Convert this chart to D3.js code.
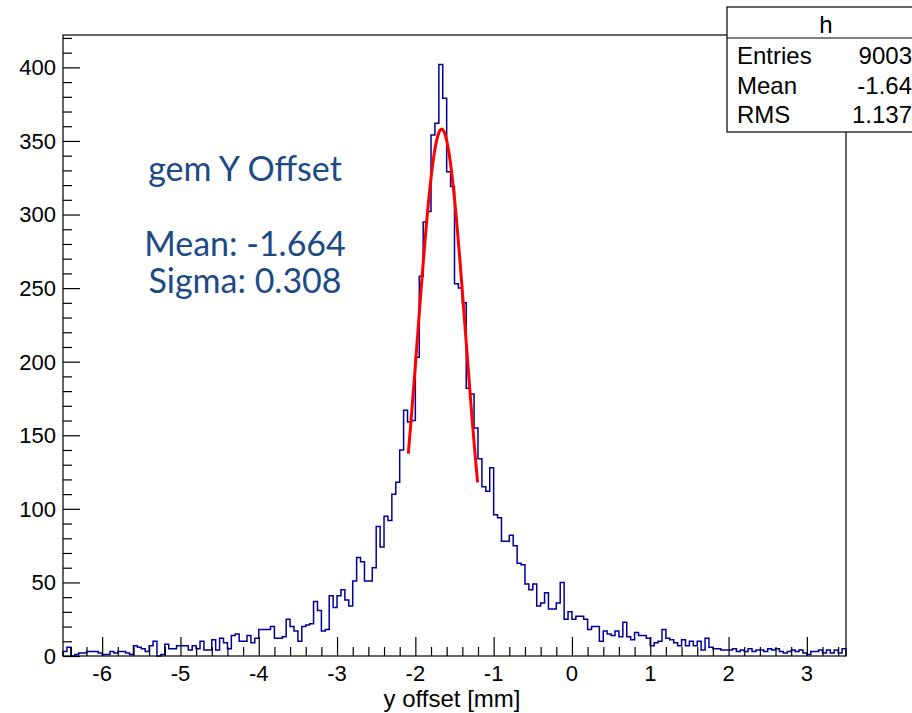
<!DOCTYPE html>
<html><head><meta charset="utf-8">
<script src="https://cdn.jsdelivr.net/npm/d3@7"></script>
<style>body{margin:0;background:#fff;}svg{display:block;}</style>
</head><body>
<script>
// Histogram: 200 bins of width 0.05 from -6.5 to 3.5
const binLow = -6.5, binWidth = 0.05;
const counts = [
 3,6,0,1,2,2,3,3,3,2, 1,1,3,2,3,3,2,1,7,6,
 5,3,7,10,0,1,8,5,5,7, 7,7,4,7,5,10,4,4,11,4,
 12,9,5,14,15,10,10,14,9,12, 18,18,18,20,12,12,13,25,20,17,
 10,20,21,22,37,31,17,18,41,33, 41,45,38,34,51,67,64,51,51,60,
 88,74,95,92,110,118,140,167,159,160, 203,258,295,302,354,362,402,379,329,319,
 253,250,240,182,178,155,134,115,112,128, 96,94,78,78,82,75,63,62,49,45,
 49,34,36,43,32,32,36,50,25,30, 25,27,27,25,18,20,20,10,17,15,
 14,17,13,23,13,11,16,14,14,12, 7,9,10,18,12,11,9,7,11,7,
 10,7,10,4,12,6,5,5,4,4, 4,5,3,4,3,5,3,4,4,3,
 5,4,5,3,2,3,4,3,4,2, 1,3,3,4,2,4,2,4,2,5
];
const xTicks = [-6,-5,-4,-3,-2,-1,0,1,2,3];
const yTicks = [0,50,100,150,200,250,300,350,400];
const fitMean = -1.664, fitSigma = 0.308, fitAmp = 358, fitRange = [-2.09, -1.205];
const statsLabels = ["Entries","Mean","RMS"];
const statsValues = ["9003","-1.64","1.137"];
const noteLines = ["gem Y Offset","","Mean: -1.664","Sigma: 0.308"];

const W = 912, H = 713;
const svg = d3.select("body").append("svg").attr("width",W).attr("height",H);
const x = d3.scaleLinear().domain([-6.5,3.5]).range([63,846]);
const y = d3.scaleLinear().domain([0,422]).range([656,35]);

// histogram outline
const pts = [[x(binLow), y(0)]];
counts.forEach((c,i)=>{
  const x0 = binLow + i*binWidth, x1 = x0 + binWidth;
  pts.push([x(x0), y(c)], [x(x1), y(c)]);
});
pts.push([x(binLow + counts.length*binWidth), y(0)]);
svg.append("path").attr("d", d3.line()(pts))
  .attr("fill","none").attr("stroke","#000099").attr("stroke-width",1.5);

// fit curve
const fx = d3.range(0,101).map(k=>fitRange[0] + (fitRange[1]-fitRange[0])*k/100);
svg.append("path").attr("d", d3.line().x(d=>x(d)).y(d=>y(fitAmp*Math.exp(-0.5*Math.pow((d-fitMean)/fitSigma,2))))(fx))
  .attr("fill","none").attr("stroke","#ff0000").attr("stroke-width",3);

// frame
svg.append("rect").attr("x",63).attr("y",35).attr("width",783).attr("height",621)
  .attr("fill","none").attr("stroke","#000").attr("stroke-width",1.2);

// x axis ticks (inward)
const xAxis = d3.axisTop(x).tickValues(xTicks).tickSize(19).tickFormat("");
const xMinor = d3.axisTop(x).tickValues(d3.range(-6.4,3.5,0.2).filter(v=>Math.abs(v-Math.round(v))>0.01)).tickSize(9).tickFormat("");
[xAxis,xMinor].forEach(a=>{
  const g = svg.append("g").attr("transform","translate(0,656)").call(a);
  g.select(".domain").remove();
  g.selectAll("line").attr("stroke","#000").attr("stroke-width",1.2);
});
svg.append("g").selectAll("text").data(xTicks).join("text")
  .attr("x",d=>x(d)).attr("y",681).attr("text-anchor","middle")
  .attr("font-family","Liberation Sans, Arial, sans-serif").attr("font-size",22)
  .text(d=>d);

// y axis ticks (inward)
const yAxis = d3.axisRight(y).tickValues(yTicks).tickSize(17).tickFormat("");
const yMinor = d3.axisRight(y).tickValues(d3.range(10,421,10).filter(v=>v%50!==0)).tickSize(9).tickFormat("");
[yAxis,yMinor].forEach(a=>{
  const g = svg.append("g").attr("transform","translate(63,0)").call(a);
  g.select(".domain").remove();
  g.selectAll("line").attr("stroke","#000").attr("stroke-width",1.2);
});
svg.append("g").selectAll("text").data(yTicks).join("text")
  .attr("x",56).attr("y",d=>y(d)).attr("dy","0.36em").attr("text-anchor","end")
  .attr("font-family","Liberation Sans, Arial, sans-serif").attr("font-size",22)
  .text(d=>d);

// axis title
svg.append("text").attr("x",452).attr("y",707).attr("text-anchor","middle")
  .attr("font-family","Liberation Sans, Arial, sans-serif").attr("font-size",24)
  .text("y offset [mm]");

// annotation
const noteY = [181, 218, 256, 293];
noteLines.forEach((t,i)=>{
  if(!t) return;
  svg.append("text").attr("x",245).attr("y",noteY[i]).attr("text-anchor","middle")
    .attr("font-family","Lato, 'Open Sans', sans-serif").attr("font-size",34)
    .attr("fill","#1c4a87").text(t);
});

// stats box
svg.append("rect").attr("x",727).attr("y",7).attr("width",200).attr("height",125)
  .attr("fill","#fff").attr("stroke","#000").attr("stroke-width",1.2);
svg.append("line").attr("x1",727).attr("x2",912).attr("y1",38).attr("y2",38)
  .attr("stroke","#000").attr("stroke-width",1.2);
svg.append("text").attr("x",826).attr("y",33).attr("text-anchor","middle")
  .attr("font-family","Liberation Sans, Arial, sans-serif").attr("font-size",24).text("h");
const sy = [64, 94, 123];
statsLabels.forEach((t,i)=>{
  svg.append("text").attr("x",737).attr("y",sy[i])
    .attr("font-family","Liberation Sans, Arial, sans-serif").attr("font-size",24).text(t);
  svg.append("text").attr("x",912).attr("y",sy[i]).attr("text-anchor","end")
    .attr("font-family","Liberation Sans, Arial, sans-serif").attr("font-size",24).text(statsValues[i]);
});
</script>
</body></html>
